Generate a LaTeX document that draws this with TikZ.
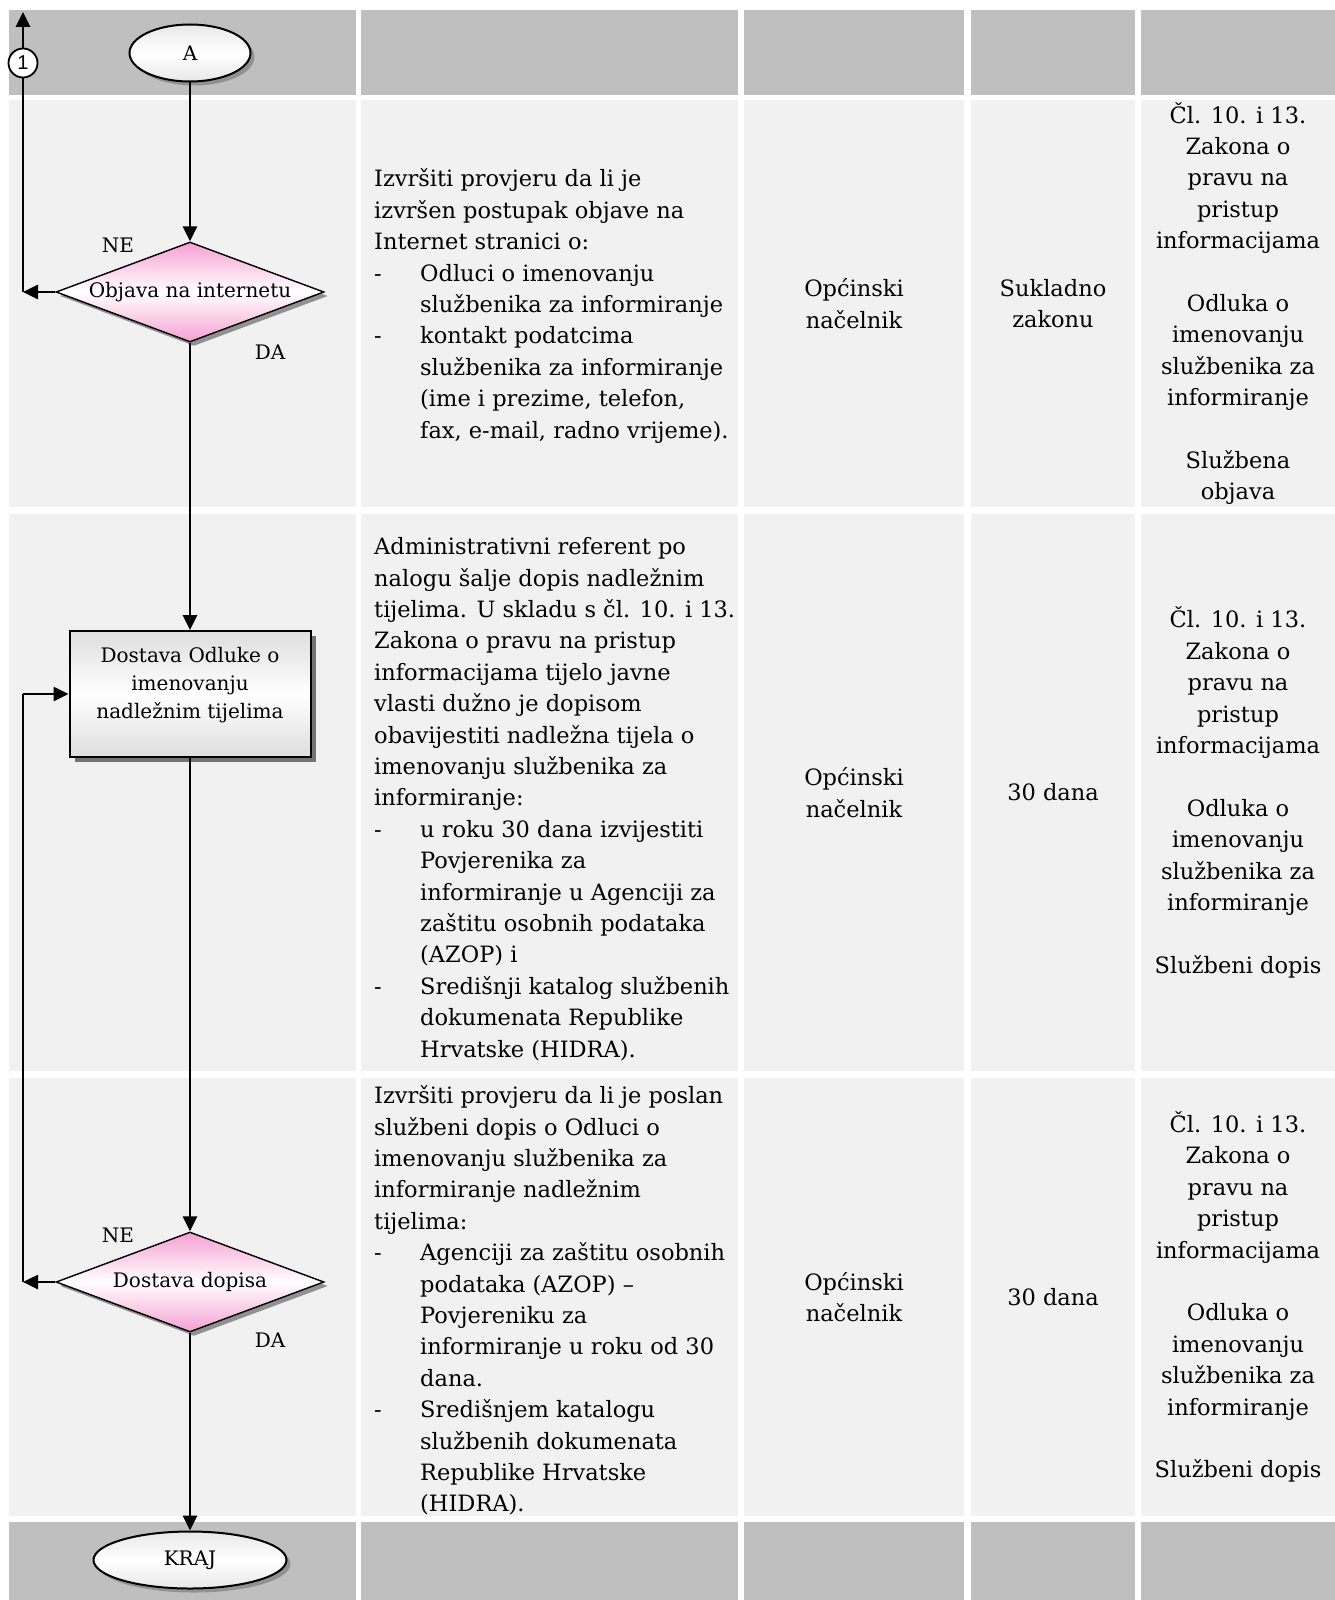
\documentclass[tikz,border=0pt]{standalone}
\usepackage{fontspec}
\setmainfont{DejaVu Serif}
\newfontfamily\numfont{Liberation Sans}
\usetikzlibrary{shapes.geometric,arrows.meta,shadows}
\definecolor{hdr}{RGB}{191,191,191}
\definecolor{cellbg}{RGB}{241,241,241}
\definecolor{pinkc}{RGB}{245,160,210}
\definecolor{shad}{RGB}{145,145,145}
\definecolor{boxg}{RGB}{222,222,222}
\newcommand{\bitem}{\makebox[46pt][l]{-}}
\newcommand{\bcont}{\hspace*{46pt}}
\begin{document}
\begin{tikzpicture}[x=1pt,y=-1pt,
  flow/.style={line width=2.6pt,-{Triangle[length=15pt,width=14pt]}},
  plain/.style={line width=2.6pt},
  terminal/.style={ellipse,draw,line width=2pt,inner sep=0pt,
    top color=boxg!70,bottom color=boxg!70,middle color=white,
    font=\fontsize{20}{24}\selectfont,
    drop shadow={shadow xshift=4pt,shadow yshift=-4pt,fill=shad,opacity=1}},
  decision/.style={diamond,draw,line width=1.4pt,inner sep=0pt,aspect=2.68,
    minimum width=268pt,minimum height=100pt,
    top color=pinkc,bottom color=pinkc,middle color=white,
    font=\fontsize{20}{24}\selectfont,
    drop shadow={shadow xshift=4pt,shadow yshift=-4pt,fill=shad,opacity=1}},
  process/.style={rectangle,draw,line width=2pt,inner sep=0pt,
    minimum width=241pt,minimum height=126pt,
    top color=boxg,bottom color=boxg,middle color=white,
    drop shadow={shadow xshift=5pt,shadow yshift=-5pt,fill=shad!80!black,opacity=1}},
  ftext/.style={inner sep=0pt,font=\fontsize{20}{28}\selectfont,align=center},
  lbl/.style={inner sep=0pt,font=\fontsize{20}{24}\selectfont},
  conn/.style={circle,draw,line width=1.8pt,fill=white,minimum size=29pt,inner sep=0pt,
    font=\numfont\fontsize{20}{22}\selectfont},
  ltext/.style={inner sep=0pt,font=\fontsize{22.5}{31.4}\selectfont,align=left,anchor=west},
  ctext/.style={inner sep=0pt,font=\fontsize{22.5}{31.4}\selectfont,align=center}
]
\useasboundingbox (0,0) rectangle (1335,1600);
\fill[white] (0,0) rectangle (1335,1600);
% table background
\foreach \xa/\xb in {9/356,361/738,744/964,971/1135,1141/1335}{
  \fill[hdr] (\xa,10) rectangle (\xb,95);
  \fill[cellbg] (\xa,100) rectangle (\xb,507);
  \fill[cellbg] (\xa,514) rectangle (\xb,1071);
  \fill[cellbg] (\xa,1078) rectangle (\xb,1516);
  \fill[hdr] (\xa,1522) rectangle (\xb,1600);
}
% flowchart
\node[terminal,minimum width=121pt,minimum height=57pt] (A) at (190,53) {A};
\node[decision] (d1) at (190,292) {Objava na internetu};
\node[process] (box) at (190,694) {};
\node[ftext] (boxt) at (190,685) {Dostava Odluke o\\imenovanju\\nadležnim tijelima};
\node[decision] (d2) at (190,1282) {Dostava dopisa};
\node[terminal,minimum width=193pt,minimum height=57pt] (kraj) at (190,1560) {KRAJ};
\node[conn] (c1) at (23,63) {1};
\node[lbl] (ne1) at (118,245) {NE};
\node[lbl] (da1) at (270,352) {DA};
\node[lbl] (ne2) at (118,1235) {NE};
\node[lbl] (da2) at (270,1340) {DA};
\coordinate (l1) at (23,292);
\coordinate (l2) at (23,1282);
\coordinate (l3) at (23,694);
\coordinate (top) at (23,12);
\draw[flow] (A.south) -- (d1.north);
\draw[flow] (d1.south) -- (box.north);
\draw[flow] (box.south) -- (d2.north);
\draw[flow] (d2.south) -- (kraj.north);
\draw[flow] (d1.west) -- (l1);
\draw[plain] (l1) -- (c1.south);
\draw[flow] (c1.north) -- (top);
\draw[flow] (d2.west) -- (l2);
\draw[plain] (l2) -- (l3);
\draw[flow] (l3) -- (box.west);
% column 2 texts
\node[ltext] (t1) at (374,306) {Izvršiti provjeru da li je\\
izvršen postupak objave na\\
Internet stranici o:\\
\bitem Odluci o imenovanju\\
\bcont službenika za informiranje\\
\bitem kontakt podatcima\\
\bcont službenika za informiranje\\
\bcont (ime i prezime, telefon,\\
\bcont fax, e-mail, radno vrijeme).};
\node[ltext] (t2) at (374,799) {Administrativni referent po\\
nalogu šalje dopis nadležnim\\
tijelima. U skladu s čl. 10. i 13.\\
Zakona o pravu na pristup\\
informacijama tijelo javne\\
vlasti dužno je dopisom\\
obavijestiti nadležna tijela o\\
imenovanju službenika za\\
informiranje:\\
\bitem u roku 30 dana izvijestiti\\
\bcont Povjerenika za\\
\bcont informiranje u Agenciji za\\
\bcont zaštitu osobnih podataka\\
\bcont (AZOP) i\\
\bitem Središnji katalog službenih\\
\bcont dokumenata Republike\\
\bcont Hrvatske (HIDRA).};
\node[ltext] (t3) at (374,1300.5) {Izvršiti provjeru da li je poslan\\
službeni dopis o Odluci o\\
imenovanju službenika za\\
informiranje nadležnim\\
tijelima:\\
\bitem Agenciji za zaštitu osobnih\\
\bcont podataka (AZOP) –\\
\bcont Povjereniku za\\
\bcont informiranje u roku od 30\\
\bcont dana.\\
\bitem Središnjem katalogu\\
\bcont službenih dokumenata\\
\bcont Republike Hrvatske\\
\bcont (HIDRA).};
% column 3
\node[ctext] (o1) at (854,303.5) {Općinski\\načelnik};
\node[ctext] (o2) at (854,792.5) {Općinski\\načelnik};
\node[ctext] (o3) at (854,1297) {Općinski\\načelnik};
% column 4
\node[ctext] (r1) at (1053,303.5) {Sukladno\\zakonu};
\node[ctext] (r2) at (1053,792.5) {30 dana};
\node[ctext] (r3) at (1053,1297) {30 dana};
% column 5
\node[ctext] (z1) at (1238,303.5) {Čl. 10. i 13.\\Zakona o\\pravu na\\pristup\\informacijama\\[31.4pt]Odluka o\\imenovanju\\službenika za\\informiranje\\[31.4pt]Službena\\objava};
\node[ctext] (z2) at (1238,792.5) {Čl. 10. i 13.\\Zakona o\\pravu na\\pristup\\informacijama\\[31.4pt]Odluka o\\imenovanju\\službenika za\\informiranje\\[31.4pt]Službeni dopis};
\node[ctext] (z3) at (1238,1297) {Čl. 10. i 13.\\Zakona o\\pravu na\\pristup\\informacijama\\[31.4pt]Odluka o\\imenovanju\\službenika za\\informiranje\\[31.4pt]Službeni dopis};
\end{tikzpicture}
\end{document}
